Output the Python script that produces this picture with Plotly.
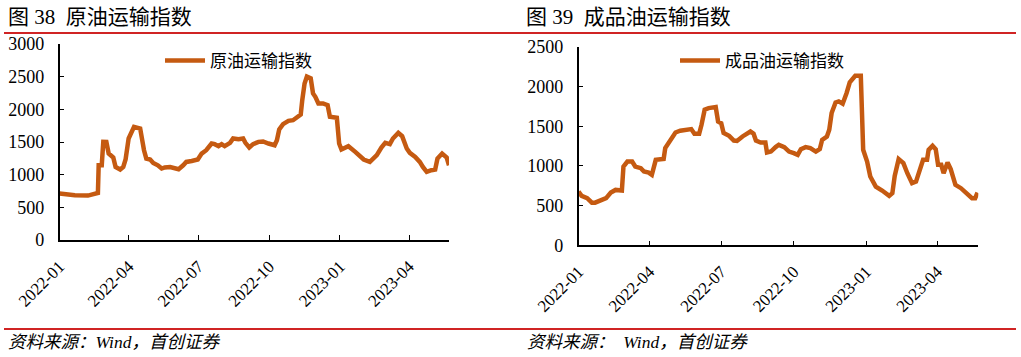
import plotly.graph_objects as go

# ---------------- data ----------------
crude_dates = [
    "2022-01-01", "2022-01-21", "2022-02-07", "2022-02-16", "2022-02-20", "2022-02-21",
    "2022-02-25", "2022-02-27", "2022-03-03", "2022-03-06", "2022-03-12", "2022-03-15",
    "2022-03-21", "2022-03-25", "2022-03-28", "2022-04-01", "2022-04-05", "2022-04-08",
    "2022-04-16", "2022-04-19", "2022-04-21", "2022-04-24", "2022-04-29", "2022-05-03",
    "2022-05-09", "2022-05-14", "2022-05-18", "2022-05-25", "2022-05-31", "2022-06-05",
    "2022-06-11", "2022-06-15", "2022-06-22", "2022-06-30", "2022-07-05", "2022-07-11",
    "2022-07-18", "2022-07-22", "2022-07-27", "2022-07-31", "2022-08-04", "2022-08-11",
    "2022-08-15", "2022-08-22", "2022-08-28", "2022-08-31", "2022-09-05", "2022-09-10",
    "2022-09-17", "2022-09-23", "2022-09-30", "2022-10-08", "2022-10-11", "2022-10-14",
    "2022-10-19", "2022-10-26", "2022-11-01", "2022-11-06", "2022-11-11", "2022-11-13",
    "2022-11-16", "2022-11-19", "2022-11-24", "2022-11-27", "2022-11-30", "2022-12-04",
    "2022-12-10", "2022-12-16", "2022-12-19", "2022-12-28", "2022-12-31", "2023-01-03",
    "2023-01-12", "2023-01-21", "2023-02-01", "2023-02-09", "2023-02-18", "2023-02-24",
    "2023-03-01", "2023-03-07", "2023-03-11", "2023-03-18", "2023-03-23", "2023-03-29",
    "2023-04-02", "2023-04-09", "2023-04-15", "2023-04-19", "2023-04-24", "2023-04-30",
    "2023-05-05", "2023-05-08", "2023-05-14", "2023-05-20", "2023-05-23",
]
crude_values = [
    710, 684, 680, 700, 720, 1144,
    1144, 1502, 1500, 1323, 1262, 1118,
    1078, 1118, 1232, 1554, 1681, 1732,
    1707, 1451, 1374, 1247, 1232, 1180,
    1144, 1094, 1110, 1118, 1098, 1083,
    1144, 1195, 1210, 1232, 1323, 1374,
    1477, 1467, 1436, 1467, 1436, 1487,
    1554, 1544, 1554, 1487, 1416, 1467,
    1502, 1508, 1477, 1451, 1528, 1692,
    1773, 1824, 1834, 1870, 1922, 2141,
    2397, 2500, 2474, 2244, 2192, 2091,
    2091, 2065, 1885, 1870, 1477, 1385,
    1436, 1349, 1232, 1195, 1298, 1416,
    1487, 1467, 1554, 1640, 1589, 1400,
    1333, 1272, 1195, 1118, 1042, 1068,
    1078, 1247, 1323, 1262, 1144,
]

product_dates = [
    "2022-01-01", "2022-01-05", "2022-01-12", "2022-01-18", "2022-01-22", "2022-01-29",
    "2022-02-05", "2022-02-11", "2022-02-17", "2022-02-25", "2022-02-27", "2022-03-04",
    "2022-03-10", "2022-03-14", "2022-03-21", "2022-03-25", "2022-03-31", "2022-04-04",
    "2022-04-09", "2022-04-15", "2022-04-19", "2022-04-21", "2022-04-28", "2022-05-04",
    "2022-05-10", "2022-05-19", "2022-05-24", "2022-05-28", "2022-06-03", "2022-06-06",
    "2022-06-10", "2022-06-15", "2022-06-24", "2022-06-27", "2022-07-01", "2022-07-04",
    "2022-07-11", "2022-07-17", "2022-07-21", "2022-07-28", "2022-08-01", "2022-08-07",
    "2022-08-11", "2022-08-14", "2022-08-20", "2022-08-26", "2022-08-28", "2022-09-02",
    "2022-09-08", "2022-09-12", "2022-09-19", "2022-09-25", "2022-10-01", "2022-10-06",
    "2022-10-10", "2022-10-16", "2022-10-22", "2022-10-29", "2022-11-03", "2022-11-06",
    "2022-11-12", "2022-11-15", "2022-11-18", "2022-11-23", "2022-11-27", "2022-12-02",
    "2022-12-07", "2022-12-11", "2022-12-18", "2022-12-25", "2022-12-28", "2023-01-02",
    "2023-01-06", "2023-01-13", "2023-01-21", "2023-01-30", "2023-02-03", "2023-02-06",
    "2023-02-11", "2023-02-17", "2023-02-22", "2023-02-28", "2023-03-05", "2023-03-11",
    "2023-03-14", "2023-03-19", "2023-03-21", "2023-03-26", "2023-03-30", "2023-04-02",
    "2023-04-06", "2023-04-09", "2023-04-14", "2023-04-18", "2023-04-24", "2023-05-01",
    "2023-05-07", "2023-05-11", "2023-05-15", "2023-05-19", "2023-05-22",
]
product_values = [
    677, 623, 594, 538, 538, 563,
    594, 664, 698, 690, 993, 1056,
    1056, 993, 972, 930, 917, 888,
    1077, 1086, 1090, 1225, 1330, 1422,
    1444, 1465, 1465, 1406, 1406, 1520,
    1709, 1730, 1743, 1561, 1540, 1415,
    1380, 1321, 1315, 1372, 1393, 1435,
    1406, 1321, 1296, 1296, 1170, 1182,
    1238, 1267, 1238, 1182, 1162, 1140,
    1212, 1238, 1225, 1182, 1212, 1330,
    1372, 1456, 1667, 1801, 1814, 1785,
    1920, 2054, 2138, 2138, 1204, 1056,
    867, 740, 690, 623, 657, 875,
    1086, 1036, 909, 783, 803, 993,
    1077, 1077, 1204, 1254, 1212, 1014,
    1014, 909, 1043, 960, 762, 720,
    664, 635, 594, 594, 664,
]

titles = ["图 38  原油运输指数", "图 39  成品油运输指数"]
series_names = ["原油运输指数", "成品油运输指数"]
sources = ["资料来源：Wind，首创证券", "资料来源：  Wind，首创证券"]
x_range = ["2022-01-01", "2023-05-23"]
y_max = [3000, 2500]

# ---------------- styling ----------------
W, H = 1021, 357
LINE_COLOR = "#C55A11"
RED = "#D02424"
SERIF = "Liberation Serif, Times New Roman, serif"
CJK = "Liberation Serif, Noto Sans CJK SC, sans-serif"


def px_x(p):
    return p / W


def px_y(p):
    return 1 - p / H


fig = go.Figure()

fig.add_trace(go.Scatter(
    x=crude_dates, y=crude_values, mode="lines", name=series_names[0],
    line=dict(color=LINE_COLOR, width=4.5), xaxis="x", yaxis="y", legend="legend",
))
fig.add_trace(go.Scatter(
    x=product_dates, y=product_values, mode="lines", name=series_names[1],
    line=dict(color=LINE_COLOR, width=4.5), xaxis="x2", yaxis="y2", legend="legend2",
))

common_x = dict(
    type="date", range=x_range, tickformat="%Y-%m", dtick="M3", tick0="2022-01-01",
    tickangle=-45, showgrid=False, zeroline=False, showline=True, linecolor="#000000",
    linewidth=1.5, ticks="inside", ticklen=5, tickcolor="#000000", tickwidth=1,
    tickfont=dict(family=SERIF, size=17, color="#000000"), ticklabelstandoff=8,
    automargin=False,
)
common_y = dict(
    showgrid=False, zeroline=False, showline=True, linecolor="#000000", linewidth=1.5,
    ticks="inside", ticklen=5, tickcolor="#000000", tickwidth=1, dtick=500,
    tickfont=dict(family=SERIF, size=18, color="#000000"), ticklabelstandoff=10,
    automargin=False,
)

fig.update_layout(
    width=W, height=H, margin=dict(l=0, r=0, t=0, b=0),
    paper_bgcolor="white", plot_bgcolor="white",
    xaxis=dict(domain=[px_x(59.5), px_x(449)], anchor="y", **common_x),
    yaxis=dict(domain=[px_y(240), px_y(44)], anchor="x", range=[0, y_max[0]], **common_y),
    xaxis2=dict(domain=[px_x(578.5), px_x(978.3)], anchor="y2", **common_x),
    yaxis2=dict(domain=[px_y(245.3), px_y(47)], anchor="x2", range=[0, y_max[1]], **common_y),
    legend=dict(x=px_x(160), y=px_y(61), xanchor="left", yanchor="middle",
                bgcolor="rgba(0,0,0,0)", borderwidth=0, itemwidth=40,
                font=dict(family=CJK, size=17, color="#000000")),
    legend2=dict(x=px_x(675), y=px_y(61), xanchor="left", yanchor="middle",
                 bgcolor="rgba(0,0,0,0)", borderwidth=0, itemwidth=40,
                 font=dict(family=CJK, size=17, color="#000000")),
    showlegend=True,
)

# titles
for x0, t in zip([6, 524], titles):
    fig.add_annotation(text=t, x=px_x(x0), y=px_y(17), xref="paper", yref="paper",
                       xanchor="left", yanchor="middle", showarrow=False,
                       font=dict(family=CJK, size=21, color="#000000"))

# sources
for x0, s in zip([6, 525], sources):
    fig.add_annotation(text="<i>" + s + "</i>", x=px_x(x0), y=px_y(342), xref="paper",
                       yref="paper", xanchor="left", yanchor="middle", showarrow=False,
                       font=dict(family=CJK, size=17.5, color="#000000"))

# red rules
for yy in [33, 329]:
    fig.add_shape(type="line", xref="paper", yref="paper", x0=px_x(4), x1=px_x(1016),
                  y0=px_y(yy), y1=px_y(yy), line=dict(color=RED, width=2))

fig.write_html("out.html", config={"displayModeBar": False},
               post_script="document.body.style.margin='0px';")
